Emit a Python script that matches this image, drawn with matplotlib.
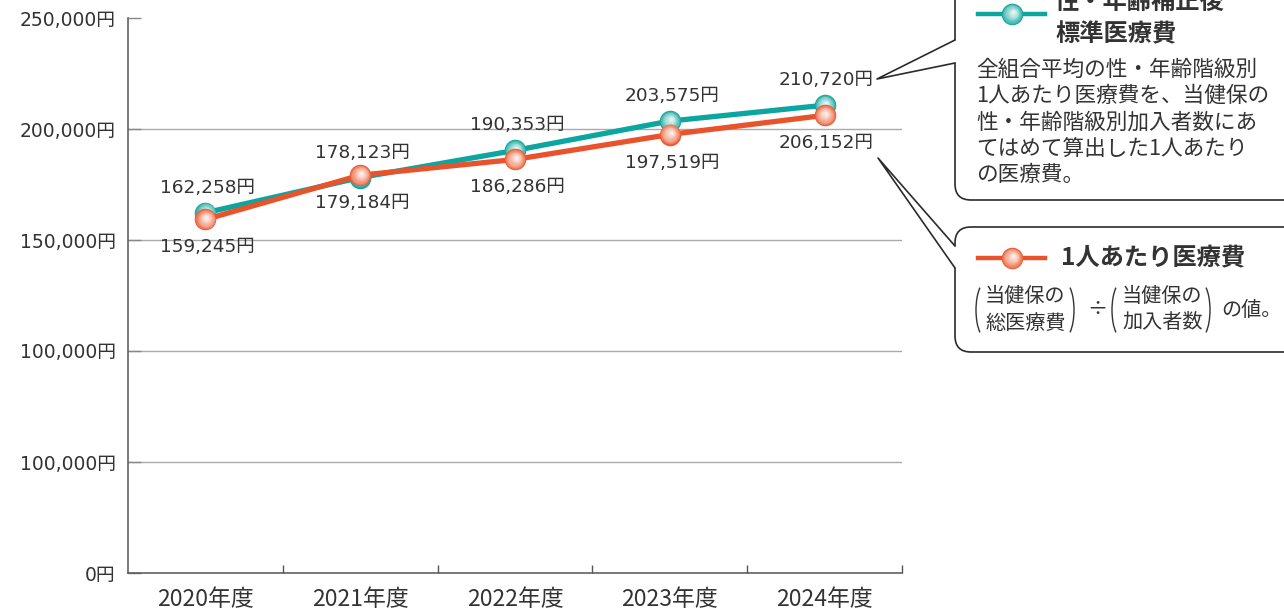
import matplotlib
matplotlib.use('Agg')
import matplotlib.pyplot as plt
from matplotlib.patches import FancyBboxPatch, Polygon, Arc
from matplotlib.transforms import offset_copy
from matplotlib.colors import to_rgb

plt.rcParams['font.family'] = ['Noto Sans CJK JP', 'DejaVu Sans']
NUMFONT = ['DejaVu Sans', 'Noto Sans CJK JP']

# data
years = ['2020年度', '2021年度', '2022年度', '2023年度', '2024年度']
adjusted = [162258, 178123, 190353, 203575, 210720]    # 性・年齢補正後標準医療費
per_person = [159245, 179184, 186286, 197519, 206152]  # 1人あたり医療費
ytick_vals = [0, 50000, 100000, 150000, 200000, 250000]
ytick_labels = ['0円', '100,000円', '100,000円', '150,000円', '200,000円', '250,000円']

TEAL = '#0aa69f'
ORANGE = '#e8532b'
TXT = '#333333'

fig = plt.figure(figsize=(12.84, 6.13), dpi=100)
ax = fig.add_axes([128/1284, 1 - 573/613, 774/1284, 555/613])


def mix(c1, c2, t):
    a, b = to_rgb(c1), to_rgb(c2)
    return tuple(a[i] + (b[i] - a[i]) * t for i in range(3))


def balls(axis, xs, ys, edge, light, ms=15.5, z=3, n=12):
    # fake radial gradient with stacked circles
    for i in range(n):
        t = i / (n - 1)
        tr = offset_copy(axis.transData, fig=fig, x=1.0 * t, y=2.0 * t, units='dots')
        axis.plot(xs, ys, 'o', ms=ms * (1 - 0.88 * t), mfc=mix(edge, light, t ** 0.7),
                  mec='none', transform=tr, zorder=z, clip_on=False)


x = list(range(len(years)))

for v in ytick_vals[1:-1]:
    ax.axhline(v, color='#aaaaaa', lw=1.0, zorder=1)

ax.plot(x, adjusted, color=TEAL, lw=3.8, zorder=2, solid_capstyle='round')
balls(ax, x, adjusted, '#12a59e', '#e6f7f5', z=3)
ax.plot(x, per_person, color=ORANGE, lw=3.8, zorder=4, solid_capstyle='round')
balls(ax, x, per_person, '#e95a33', '#fff1ea', z=5)

for xi, v in zip(x, adjusted):
    ax.annotate(f'{v:,}円', (xi, v), xytext=(2, 25), textcoords='offset pixels',
                ha='center', va='center', fontsize=13.3, color=TXT, family=NUMFONT)
for xi, v in zip(x, per_person):
    ax.annotate(f'{v:,}円', (xi, v), xytext=(2, -28), textcoords='offset pixels',
                ha='center', va='center', fontsize=13.3, color=TXT, family=NUMFONT)

ax.set_xlim(-0.5, 4.5)
ax.set_ylim(0, 250000)
ax.set_xticks(x)
ax.set_xticklabels(years, fontsize=16.5, color=TXT)
ax.set_xticks([0.5, 1.5, 2.5, 3.5, 4.5], minor=True)
ax.tick_params(axis='x', which='major', length=0, pad=11)
ax.tick_params(axis='x', which='minor', direction='in', length=6, width=1, color='#555555')
ax.set_yticks(ytick_vals)
ax.set_yticklabels(ytick_labels, fontsize=13.5, color=TXT, family=NUMFONT)
ax.tick_params(axis='y', direction='in', length=9, width=1, color='#888888', pad=9)
for s in ['top', 'right']:
    ax.spines[s].set_visible(False)
for s in ['left', 'bottom']:
    ax.spines[s].set_color('#555555')
    ax.spines[s].set_linewidth(1.1)
ax.set_facecolor('none')

# overlay in pixel coordinates for the explanation boxes
ov = fig.add_axes([0, 0, 1, 1], zorder=10)
ov.set_xlim(0, 1284)
ov.set_ylim(613, 0)
ov.axis('off')
ov.patch.set_alpha(0)

EDGE = '#2b2b2b'
ov.add_patch(FancyBboxPatch((955, -30), 360, 230, boxstyle='round,pad=0,rounding_size=16',
                            fc='white', ec=EDGE, lw=1.2))
ov.add_patch(FancyBboxPatch((955, 227), 360, 125, boxstyle='round,pad=0,rounding_size=16',
                            fc='white', ec=EDGE, lw=1.2))
# pointers
ov.add_patch(Polygon([(877, 79), (955, 40), (958, 40), (958, 63), (955, 63)],
                     closed=True, fc='white', ec='none', zorder=3))
ov.plot([955, 877, 955], [40, 79, 63], color=EDGE, lw=1.2, zorder=4)
ov.add_patch(Polygon([(878, 158), (955, 246), (958, 246), (958, 268), (955, 268)],
                     closed=True, fc='white', ec='none', zorder=3))
ov.plot([955, 878, 955], [246, 158, 268], color=EDGE, lw=1.2, zorder=4)


def legend_ball(cx, cy, line_c, edge, light):
    ov.plot([978, 1045], [cy, cy], color=line_c, lw=3.2, zorder=5)
    for i in range(12):
        t = i / 11
        ov.plot(cx + 1.0 * t, cy - 2.0 * t, 'o', ms=15.5 * (1 - 0.88 * t),
                mfc=mix(edge, light, t ** 0.7), mec='none', zorder=6)


legend_ball(1012, 14, TEAL, '#12a59e', '#e6f7f5')
legend_ball(1012, 258, ORANGE, '#e95a33', '#fff1ea')

ov.text(1055, 3, '性・年齢補正後', fontsize=17.5, fontweight='bold', color=TXT, va='center', zorder=6)
ov.text(1055, 34, '標準医療費', fontsize=17.5, fontweight='bold', color=TXT, va='center', zorder=6)
body = ['全組合平均の性・年齢階級別', '1人あたり医療費を、当健保の',
        '性・年齢階級別加入者数にあ', 'てはめて算出した1人あたり', 'の医療費。']
for i, line in enumerate(body):
    ov.text(976, 70 + i * 26.3, line, fontsize=15.6, color=TXT, va='center', zorder=6)

ov.text(1061, 258, '1人あたり医療費', fontsize=17.5, fontweight='bold', color=TXT, va='center', zorder=6)
ov.text(985, 297, '当健保の', fontsize=14.5, color=TXT, va='center', zorder=6)
ov.text(985, 323, '総医療費', fontsize=14.5, color=TXT, va='center', zorder=6)
ov.text(1122, 297, '当健保の', fontsize=14.5, color=TXT, va='center', zorder=6)
ov.text(1122, 323, '加入者数', fontsize=14.5, color=TXT, va='center', zorder=6)
ov.text(1097, 310, '÷', fontsize=14.5, color=TXT, va='center', ha='center', zorder=6)
ov.text(1221, 311, 'の値。', fontsize=14.5, color=TXT, va='center', zorder=6)
for cx, left in [(986, True), (1064, False), (1122, True), (1200, False)]:
    if left:
        ov.add_patch(Arc((cx, 310), 20, 56, theta1=105, theta2=255, color=TXT, lw=1.0, zorder=6))
    else:
        ov.add_patch(Arc((cx, 310), 20, 56, theta1=-75, theta2=75, color=TXT, lw=1.0, zorder=6))

fig.savefig('out.png', dpi=100, facecolor='white')
